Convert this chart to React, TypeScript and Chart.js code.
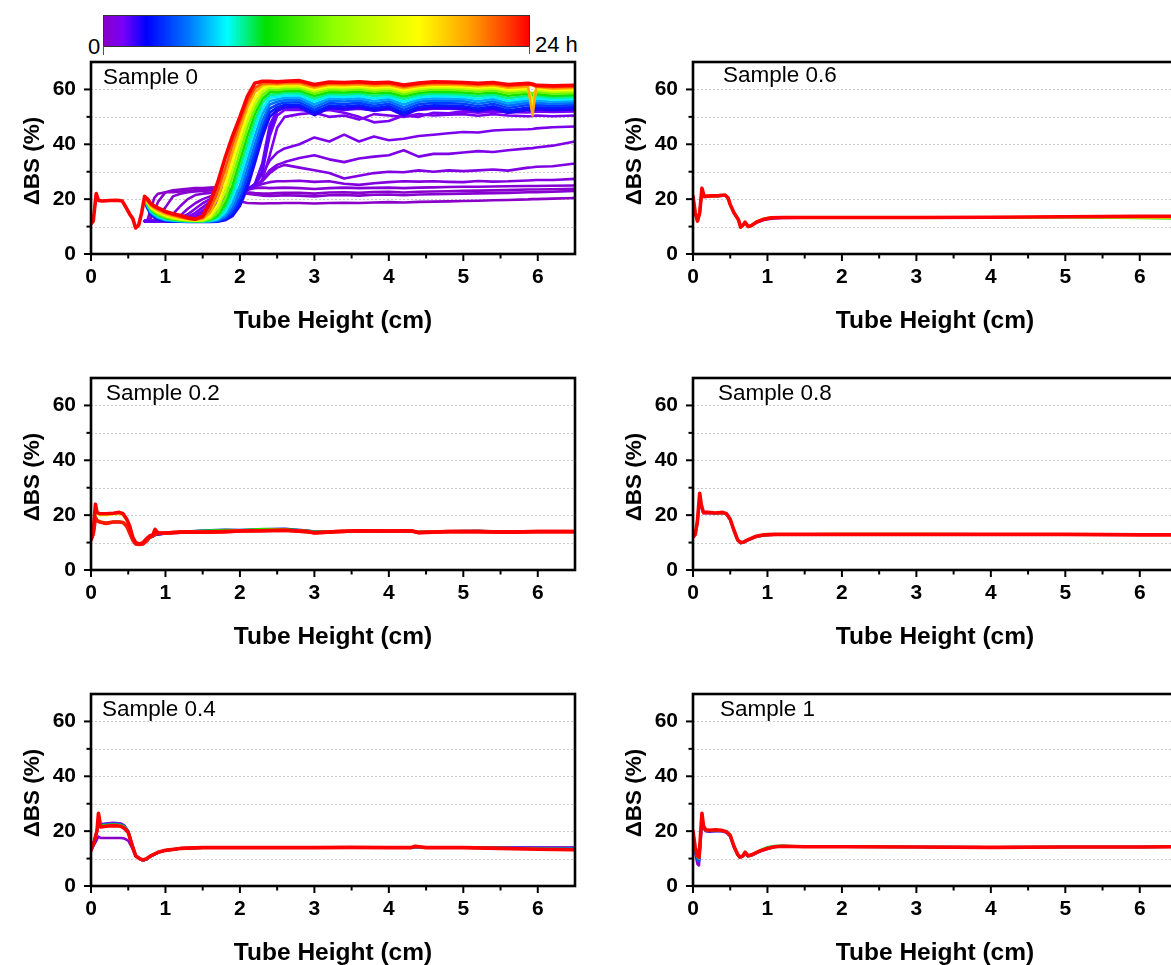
import React, { useEffect, useRef } from 'react';
import { Chart, registerables } from 'chart.js';

Chart.register(...registerables);
Chart.defaults.font.family = '"Liberation Sans", Arial, Helvetica, sans-serif';
Chart.defaults.color = '#000';

// ---------------- axes / labels ----------------
const X_MIN = 0;
const X_MAX = 6.5;
const Y_MIN = 0;
const Y_MAX = 70;
const X_MAJOR_TICKS = [0, 1, 2, 3, 4, 5, 6];
const X_MINOR_TICKS = [0.5, 1.5, 2.5, 3.5, 4.5, 5.5];
const Y_MAJOR_TICKS = [0, 20, 40, 60];
const Y_MINOR_TICKS = [10, 30, 50];
const Y_GRID_LINES = [10, 20, 30, 40, 50, 60];
const X_TITLE = 'Tube Height (cm)';
const Y_TITLE = '\u0394BS (%)';
const COLORBAR_MIN_LABEL = '0';
const COLORBAR_MAX_LABEL = '24 h';
const MAX_HOURS = 24;

// ---------------- Sample 0 ----------------
const S0_HEAD_X = [0, 0.03, 0.07, 0.1, 0.15, 0.25, 0.35, 0.42, 0.47, 0.52, 0.56, 0.6, 0.64, 0.68];
const S0_RED_HEAD = [11, 12, 22, 19.5, 19.3, 19.5, 19.6, 19.3, 17, 14.5, 13, 9.5, 10.5, 15];
const S0_X = [0.72, 0.76, 0.8, 0.85, 0.9, 1.0, 1.1, 1.2, 1.3, 1.4, 1.5, 1.6, 1.7, 1.8, 1.9, 2.0, 2.1, 2.2, 2.3, 2.4, 2.5, 2.6, 2.8, 3.0, 3.2, 3.4, 3.6, 3.8, 4.0, 4.2, 4.4, 4.6, 4.8, 5.0, 5.2, 5.4, 5.6, 5.87, 5.93, 5.98, 6.2, 6.5];
const S0_P1 = [12, 12.5, 16, 20.5, 22, 22.5, 22.5, 22.8, 23, 23.2, 23.3, 23.5, 23, 22, 20.5, 19.2, 18.6, 18.5, 18.4, 18.5, 18.5, 18.6, 18.6, 18.4, 18.6, 18.7, 18.6, 18.8, 18.9, 18.8, 19, 19.1, 19.2, 19.3, 19.4, 19.6, 19.7, 19.9, 20, 20, 20.2, 20.4];
const S0_P2 = [12, 12.3, 13, 15.5, 19, 22.5, 23.2, 23.5, 23.8, 24, 24, 24.2, 24.3, 24, 23.5, 23, 22.5, 22.2, 22, 22, 22.2, 22.3, 22.3, 22, 22.4, 22.5, 22.3, 22.6, 22.7, 22.4, 22.7, 22.8, 22.9, 23, 23.1, 23.2, 23.3, 23.5, 23.5, 23.5, 23.6, 23.8];
const S0_P3 = [12, 12, 12.2, 12.6, 13.5, 17, 21, 22, 22.5, 22.8, 23, 23.2, 23.3, 23.2, 22.8, 22.4, 22, 21.6, 21.3, 21.2, 21.3, 21.4, 21.3, 21, 21.4, 21.5, 21.3, 21.6, 21.7, 21.4, 21.7, 21.8, 21.9, 22, 22.1, 22.2, 22.3, 22.5, 22.5, 22.5, 22.7, 23];
const S0_P4 = [12, 12, 12, 12.1, 12.3, 13, 14.5, 17.5, 20, 21.5, 22, 22.3, 22.5, 22.6, 22.8, 23, 23.5, 24, 24.2, 24, 24.1, 24.2, 24, 23.7, 24, 24.2, 24, 24.1, 24.2, 24, 24.2, 24.3, 24.4, 24.5, 24.5, 24.6, 24.7, 24.8, 24.8, 24.8, 24.9, 25];
const S0_P5 = [12, 12, 12, 12, 12.1, 12.3, 12.8, 14, 16.5, 18.5, 20, 21, 21.8, 22.3, 22.8, 23.2, 23.8, 24.5, 25.5, 26.2, 26.5, 26.5, 26.7, 26.3, 26.5, 25.6, 25.2, 25.8, 26.2, 26.5, 26.4, 26.5, 26.3, 26.2, 26.6, 26.4, 26.5, 26.8, 26.9, 27, 27, 27.4];
const S0_P6 = [12, 12, 12, 12, 12, 12.2, 12.5, 13.2, 14.5, 16.5, 18.5, 20, 21, 21.8, 22.3, 22.8, 23.5, 24.5, 26.5, 29.5, 31.5, 32.5, 31.5, 30.5, 29.5, 27.5, 28.5, 29.5, 30, 29.8, 30.5, 30, 30.5, 30.2, 30.5, 30.8, 30.4, 31.5, 31.6, 31.8, 32, 33];
const S0_P7 = [12, 12, 12, 12, 12, 12.1, 12.3, 12.7, 13.5, 15, 17, 19, 20.3, 21.3, 22, 22.5, 23.3, 24.5, 27, 30.5, 32.5, 33.5, 35, 36, 34.5, 33.5, 34.8, 35.5, 36, 37.8, 35.5, 36.5, 36.5, 37, 37.5, 37.2, 37.8, 38.5, 38.6, 38.8, 39.5, 41];
const S0_P8 = [12, 12, 12, 12, 12, 12, 12.2, 12.5, 13, 14, 15.8, 18, 19.8, 21, 21.8, 22.5, 23.5, 25.5, 29, 34, 37, 38.5, 40, 42.5, 41, 43.5, 41, 42.8, 41.5, 42, 43, 43.5, 44, 44.5, 44.3, 45, 45.3, 45.5, 45.6, 45.8, 46.2, 46.5];
const S0_P9 = [12, 12, 12, 12, 12, 12, 12.1, 12.3, 12.7, 13.5, 15, 17, 19, 20.5, 21.5, 22.5, 23.5, 24.5, 27, 36, 46, 50, 51, 51.5, 50, 50.5, 49, 51, 50.5, 50, 51, 50.5, 50.8, 51, 50.4, 51, 50.5, 50.2, 50.3, 50.5, 50.2, 50.5];
const S0_P10 = [12, 12, 12, 12, 12, 12, 12, 12.2, 12.5, 13, 14.2, 16, 18, 19.8, 21, 22.3, 23.5, 25, 30, 43, 50.5, 52.5, 52.5, 52, 52.5, 51.5, 50, 48, 48.5, 50.5, 50, 51.5, 51.3, 52, 51.5, 52, 51.8, 51.6, 51.8, 52, 51.8, 52];
const S0_P11 = [12, 12, 12, 12, 12, 12, 12, 12.1, 12.3, 12.7, 13.5, 15, 17, 19, 20.5, 22, 23.5, 25.5, 33, 47, 52.5, 53.5, 53.5, 52, 53, 52.5, 53, 52.3, 52.8, 51.8, 52.5, 53, 53, 52.8, 52.3, 52.8, 52, 53, 53, 53.2, 53.3, 53.5];
const S0_P12 = [12, 12, 12, 12, 12, 12, 12, 12, 12.2, 12.5, 13, 14, 15.8, 18, 20, 22, 23.5, 25, 30, 45, 52, 53.5, 53.8, 51.5, 53.5, 53, 53.5, 52.5, 53.3, 51.2, 53, 53.5, 53.4, 53.2, 52.5, 53.3, 52, 53, 52.5, 53.2, 53, 53.3];
const S0_F1 = [19, 16.5, 14.5, 13.4, 12.6, 12, 11.8, 11.8, 11.7, 11.7, 11.7, 11.7, 11.8, 12.3, 13.8, 17.5, 24, 33, 42.5, 50, 52.5, 53.4, 53.5, 50.6, 53.2, 52.9, 53.3, 52.2, 53, 50.5, 52.8, 53.3, 53.2, 53, 52.1, 53, 51.4, 52.5, 52, 52.7, 52.4, 52.7];
const S0_F2 = [19.3, 16.8, 14.8, 13.6, 12.8, 12.1, 11.9, 11.8, 11.8, 11.8, 11.8, 11.8, 11.9, 12.6, 14.5, 18.8, 26, 35, 44.5, 51.5, 53.5, 54.3, 54.4, 51.6, 54.1, 53.8, 54.2, 53.1, 53.9, 51.5, 53.7, 54.2, 54.1, 53.9, 53, 53.9, 52.3, 53.4, 52.8, 53.5, 53.2, 53.5];
const S0_F3 = [19.5, 17, 15, 13.8, 13, 12.2, 12, 11.9, 11.9, 11.8, 11.8, 11.8, 12, 13, 15.5, 20.5, 28.5, 37.5, 46.5, 53, 54.5, 55.2, 55.3, 52.6, 55, 54.7, 55.1, 54, 54.8, 52.5, 54.6, 55.1, 55, 54.8, 53.9, 54.8, 53.2, 54.3, 53.7, 54.3, 54, 54.3];
const S0_F4 = [19.7, 17.2, 15.2, 14, 13.2, 12.3, 12.1, 12, 11.9, 11.9, 11.9, 11.9, 12.2, 13.6, 16.8, 22.5, 31, 40, 48.5, 54.5, 55.5, 56.1, 56.2, 53.6, 55.9, 55.6, 56, 54.9, 55.7, 53.5, 55.5, 56, 55.9, 55.7, 54.8, 55.7, 54.1, 55.2, 54.6, 55.1, 54.8, 55.1];
const S0_F5 = [19.8, 17.5, 15.5, 14.3, 13.4, 12.5, 12.2, 12, 12, 11.9, 11.9, 12, 12.5, 14.3, 18.5, 25, 34, 43, 51, 55.8, 56.4, 57, 57.1, 54.6, 56.7, 56.5, 56.8, 55.8, 56.5, 54.5, 56.3, 56.8, 56.7, 56.5, 55.7, 56.5, 55, 56, 55.4, 55.9, 55.5, 55.8];
const S0_F6 = [20, 17.8, 15.8, 14.6, 13.7, 12.7, 12.3, 12.1, 12, 12, 12, 12.1, 12.8, 15.3, 20.5, 28, 37, 46, 53, 57, 57.3, 57.8, 57.9, 55.6, 57.5, 57.3, 57.6, 56.7, 57.3, 55.5, 57.1, 57.6, 57.5, 57.3, 56.6, 57.3, 55.9, 56.8, 56.2, 56.7, 56.3, 56.5];
const S0_F7 = [20, 18, 16.1, 14.9, 14, 12.9, 12.4, 12.2, 12, 12, 12, 12.3, 13.3, 16.5, 22.5, 31, 40, 48.5, 55, 58, 58.2, 58.6, 58.7, 56.6, 58.3, 58.1, 58.4, 57.6, 58.1, 56.5, 57.9, 58.4, 58.3, 58.1, 57.5, 58.1, 56.8, 57.6, 57, 57.5, 57, 57.2];
const S0_F8 = [20.2, 18.3, 16.4, 15.2, 14.3, 13.1, 12.6, 12.3, 12.1, 12, 12, 12.5, 14, 18, 25, 34, 43, 51, 56.5, 59, 59, 59.4, 59.5, 57.6, 59.1, 58.9, 59.2, 58.5, 58.9, 57.4, 58.7, 59.2, 59.1, 58.9, 58.4, 58.9, 57.7, 58.4, 57.8, 58.3, 57.7, 57.9];
const S0_F9 = [20.3, 18.5, 16.7, 15.5, 14.6, 13.4, 12.8, 12.4, 12.2, 12.1, 12.1, 12.8, 15, 20, 28, 37, 46, 53, 58, 60, 59.8, 60.2, 60.3, 58.5, 59.9, 59.7, 60, 59.3, 59.7, 58.3, 59.5, 60, 59.9, 59.7, 59.3, 59.7, 58.6, 59.2, 58.5, 59.1, 58.5, 58.7];
const S0_F10 = [20.5, 18.8, 17, 15.9, 15, 13.8, 13.1, 12.6, 12.3, 12.2, 12.3, 13.3, 16.5, 22.5, 31, 40, 48.5, 55, 59.3, 60.8, 60.6, 60.9, 61, 59.3, 60.6, 60.4, 60.7, 60, 60.4, 59.1, 60.2, 60.7, 60.6, 60.4, 60, 60.4, 59.4, 59.9, 56, 59.8, 59.2, 59.4];
const S0_F11 = [20.5, 19, 17.3, 16.2, 15.4, 14.2, 13.4, 12.9, 12.5, 12.3, 12.5, 14, 18, 25, 34, 43, 51, 57, 60.5, 61.4, 61.2, 61.5, 61.6, 60, 61.2, 61, 61.3, 60.7, 61, 59.8, 60.8, 61.3, 61.2, 61, 60.6, 61, 60, 60.5, 53, 60.4, 59.8, 60];
const S0_F12 = [20.5, 19, 17.6, 16.6, 15.8, 14.6, 13.8, 13.2, 12.7, 12.4, 12.8, 15, 20.5, 28, 37, 45.5, 53.5, 59, 61.5, 62, 61.8, 62, 62.1, 60.6, 61.7, 61.5, 61.8, 61.3, 61.6, 60.4, 61.3, 61.8, 61.7, 61.5, 61.2, 61.5, 60.6, 61, 50.5, 61, 60.3, 60.5];
const S0_F13 = [20.5, 19.5, 18, 17, 16.3, 15, 14.2, 13.5, 12.9, 12.5, 13.2, 16.5, 23, 31, 40, 48, 55.5, 60.5, 62.3, 62.4, 62.2, 62.5, 62.6, 61.2, 62.2, 62, 62.3, 61.9, 62.1, 61, 61.8, 62.3, 62.2, 62, 61.7, 62, 61.2, 61.7, 61.5, 61, 60.8, 61];
const S0_RED = [21, 20, 18.5, 17.5, 16.8, 15.5, 14.7, 14, 13.2, 12.7, 13.8, 19, 26, 35, 43, 50, 57.5, 62.3, 63, 63, 62.8, 63, 63.2, 61.8, 62.7, 62.5, 62.8, 62.4, 62.6, 61.6, 62.3, 62.8, 62.7, 62.5, 62.2, 62.5, 61.8, 62.2, 62, 61.5, 61.3, 61.5];
const S0_CURVES = [S0_P1, S0_P2, S0_P3, S0_P4, S0_P5, S0_P6, S0_P7, S0_P8, S0_P9, S0_P10, S0_P11, S0_P12, S0_F1, S0_F2, S0_F3, S0_F4, S0_F5, S0_F6, S0_F7, S0_F8, S0_F9, S0_F10, S0_F11, S0_F12, S0_F13];
const S0_HOURS = [0, 0.1, 0.2, 0.3, 0.5, 0.6, 0.7, 0.8, 0.9, 1.0, 1.2, 1.4, 2, 2.9, 3.6, 4.6, 5.5, 6.7, 7.9, 9.6, 12, 14.9, 17.8, 20.4, 22.3];
const S0_RED_HOURS = 24;

// ---------------- Sample 0.2 ----------------
const S02_X = [0, 0.03, 0.06, 0.08, 0.12, 0.2, 0.3, 0.38, 0.43, 0.48, 0.52, 0.56, 0.6, 0.65, 0.7, 0.75, 0.79, 0.83, 0.86, 0.9, 1.0, 1.2, 1.5, 1.8, 2.0, 2.3, 2.6, 2.9, 3.0, 3.3, 3.6, 4.0, 4.3, 4.4, 4.8, 5.2, 5.6, 6.0, 6.3, 6.5];
const S02_PURPLE = [11, 13, 19, 18, 17.5, 17, 17.5, 17.5, 17.3, 16, 13.5, 11, 9.5, 9.3, 9.5, 10.5, 11.8, 12.2, 12.8, 13, 13.3, 13.6, 14, 14.3, 14.3, 14.5, 14.6, 14.2, 13.8, 14, 14, 14.2, 14, 13.8, 14.1, 14.2, 13.8, 14.1, 14, 14];
const S02_BLUE = [11, 13, 19, 18, 17.5, 17, 17.5, 17.5, 17.3, 16, 13.5, 11, 9.5, 9.3, 9.5, 10.5, 11.8, 12.2, 12.8, 13, 13.3, 13.8, 14.4, 14.7, 14.6, 14.8, 15, 14.4, 14, 14.1, 14.2, 14.3, 14.1, 13.8, 14.1, 14.2, 13.9, 14.1, 14, 14];
const S02_GREEN = [11, 13, 19.5, 18.2, 17.6, 17.2, 17.6, 17.6, 17.4, 16.2, 13.8, 11.2, 9.6, 9.4, 9.6, 10.6, 11.9, 12.4, 13.5, 13.2, 13.4, 13.8, 14.3, 14.6, 14.5, 14.9, 14.8, 14.3, 13.9, 14.1, 14.2, 14.2, 14.2, 13.8, 14.1, 14.2, 13.9, 14.1, 14.1, 14.1];
const S02_YELLOW = [11, 13.5, 22, 20.5, 20, 20, 20.3, 20.5, 20, 18, 15.5, 12, 10, 9.5, 10, 11.3, 12.3, 12.7, 14.5, 13.4, 13.5, 13.8, 13.9, 14.1, 14.3, 14.5, 14.6, 14.1, 13.6, 14, 14.2, 14.2, 14.3, 13.7, 14, 14.1, 13.8, 14, 14, 14];
const S02_RED_LOW = [11, 13, 19, 18, 17.5, 17, 17.5, 17.5, 17.3, 16, 13.5, 11, 9.5, 9.3, 9.5, 10.8, 12, 12.5, 13, 13.3, 13.5, 13.8, 13.8, 14, 14.2, 14.3, 14.5, 14, 13.6, 14, 14.3, 14.2, 14.3, 13.7, 14, 14, 13.8, 14, 14, 14];
const S02_RED = [11, 14, 24, 21, 20.5, 20.5, 20.7, 21, 20.5, 18.5, 16, 12, 10, 9.5, 10, 11.5, 12.5, 12.8, 14.8, 13.5, 13.5, 13.8, 13.8, 14, 14.2, 14.3, 14.5, 14, 13.5, 14, 14.3, 14.2, 14.3, 13.6, 14, 14, 13.8, 14, 14, 14];
const S02_CURVES = [S02_PURPLE, S02_BLUE, S02_GREEN, S02_YELLOW, S02_RED_LOW, S02_RED];
const S02_HOURS = [0, 3, 10, 17, 23.5, 24];

// ---------------- Sample 0.4 ----------------
const S04_X = [0, 0.04, 0.08, 0.1, 0.13, 0.2, 0.3, 0.4, 0.45, 0.5, 0.55, 0.6, 0.65, 0.7, 0.75, 0.8, 0.9, 1.0, 1.2, 1.5, 2.0, 2.5, 3.0, 3.5, 4.0, 4.3, 4.35, 4.5, 5.0, 5.5, 6.0, 6.5];
const S04_PURPLE_LOW = [13, 15, 17, 18, 17.5, 17.5, 17.5, 17.5, 17.3, 16.5, 14, 11, 10, 9.3, 9.8, 10.8, 12.2, 13, 13.7, 14, 14, 14, 14, 14, 14, 14, 14.2, 14, 14, 13.9, 13.9, 13.9];
const S04_PURPLE = [13, 16, 20, 24, 22.5, 22.8, 23, 22.8, 22, 20, 15.5, 11.2, 10, 9.3, 9.8, 10.8, 12.2, 13, 13.7, 14, 14, 14, 14, 14, 14, 14, 14.2, 14, 14, 14, 14, 14];
const S04_BLUE = [13, 16, 20, 24.5, 22.2, 22.5, 22.7, 22.5, 21.7, 20, 15.3, 11.1, 10, 9.3, 9.8, 10.8, 12.2, 13, 13.7, 14, 14, 14, 14, 14, 14, 14, 14.2, 14, 14, 13.9, 13.8, 13.7];
const S04_GREEN = [13, 16, 20, 25, 22, 22.2, 22.4, 22.2, 21.5, 19.8, 15.2, 11.1, 10, 9.4, 9.9, 10.9, 12.2, 13, 13.7, 14, 14, 14, 14, 14.1, 14, 14, 14.3, 14, 14, 13.8, 13.6, 13.5];
const S04_RED = [13, 16, 20, 26.5, 21.5, 21.8, 22, 21.8, 21, 19.5, 15, 11, 10, 9.5, 10, 11, 12.3, 13, 13.7, 14, 14, 14, 14, 14.1, 14, 14, 14.5, 14, 14, 13.7, 13.4, 13.2];
const S04_CURVES = [S04_PURPLE_LOW, S04_PURPLE, S04_BLUE, S04_GREEN, S04_RED];
const S04_HOURS = [0, 0.3, 4, 10, 24];

// ---------------- Sample 0.6 ----------------
const S06_X = [0, 0.03, 0.06, 0.09, 0.12, 0.15, 0.25, 0.35, 0.43, 0.47, 0.5, 0.55, 0.58, 0.61, 0.64, 0.67, 0.7, 0.74, 0.78, 0.85, 0.95, 1.05, 1.2, 1.5, 2.0, 3.0, 4.0, 5.0, 6.0, 6.5];
const S06_PURPLE = [21, 15, 12, 15, 23, 20.8, 21, 21.1, 21.3, 20.3, 18, 15, 13.8, 12.5, 9.8, 10.5, 11.4, 10, 10.3, 11.4, 12.4, 12.9, 13.1, 13.2, 13.2, 13.2, 13.3, 13.5, 13.5, 13.5];
const S06_GREEN = [21, 15, 12, 15, 23.5, 21, 21.1, 21.2, 21.4, 20.4, 18, 15, 13.8, 12.5, 9.8, 10.5, 11.5, 10, 10.3, 11.7, 12.8, 13.3, 13.4, 13.4, 13.3, 13.3, 13.3, 13.4, 13.1, 13];
const S06_YELLOW = [21, 15, 12, 15, 23.8, 21, 21.2, 21.3, 21.5, 20.5, 18, 15, 13.8, 12.5, 9.8, 10.5, 11.6, 10, 10.3, 11.7, 12.8, 13.3, 13.4, 13.4, 13.3, 13.3, 13.4, 13.5, 13.3, 13.2];
const S06_RED = [21, 15, 12, 15, 24, 21, 21.2, 21.3, 21.5, 20.5, 18, 15, 13.8, 12.5, 9.8, 10.5, 11.6, 10, 10.3, 11.6, 12.7, 13.2, 13.3, 13.3, 13.3, 13.3, 13.4, 13.6, 13.7, 13.7];
const S06_CURVES = [S06_PURPLE, S06_GREEN, S06_YELLOW, S06_RED];
const S06_HOURS = [0, 10, 17, 24];

// ---------------- Sample 0.8 ----------------
const S08_X = [0, 0.03, 0.06, 0.09, 0.11, 0.14, 0.2, 0.3, 0.4, 0.45, 0.5, 0.55, 0.6, 0.64, 0.68, 0.72, 0.78, 0.85, 0.95, 1.1, 1.5, 2.0, 3.0, 4.0, 5.0, 6.0, 6.5];
const S08_PURPLE = [12, 13, 17, 26, 23, 20.7, 20.8, 20.6, 20.8, 20.3, 18.3, 14.3, 10.8, 9.8, 10, 10.6, 11.3, 12.1, 12.6, 12.9, 13, 13, 13, 13, 13, 12.9, 12.9];
const S08_GREEN = [12, 13, 17.5, 27, 23.5, 20.9, 20.9, 20.7, 20.9, 20.4, 18.4, 14.4, 10.9, 9.9, 10.1, 10.7, 11.4, 12.2, 12.7, 13, 13, 13.1, 13.1, 13, 13, 12.9, 12.9];
const S08_RED = [12, 13, 18, 28, 24, 21, 21, 20.8, 21, 20.5, 18.5, 14.5, 11, 10, 10.2, 10.8, 11.5, 12.3, 12.8, 13, 13, 13, 13, 13, 13, 12.8, 12.8];
const S08_CURVES = [S08_PURPLE, S08_GREEN, S08_RED];
const S08_HOURS = [0, 10, 24];

// ---------------- Sample 1 ----------------
const S1_X = [0, 0.03, 0.06, 0.08, 0.1, 0.12, 0.14, 0.17, 0.22, 0.3, 0.38, 0.45, 0.5, 0.55, 0.6, 0.63, 0.67, 0.7, 0.74, 0.8, 0.9, 1.0, 1.1, 1.2, 1.5, 2.0, 3.0, 4.0, 5.0, 6.0, 6.5];
const S1_PURPLE = [18, 12, 8, 7.5, 15, 24, 21, 20, 19.8, 20, 20, 19.5, 18, 14.2, 11.3, 10.3, 10.8, 12, 10.8, 11.3, 12.6, 13.6, 14.2, 14.4, 14.3, 14.3, 14.2, 14.1, 14.2, 14.2, 14.3];
const S1_BLUE = [19, 13, 9.5, 9, 16.5, 25, 21.5, 20.3, 20, 20.2, 20.1, 19.6, 18.2, 14.3, 11.4, 10.4, 10.9, 12.1, 10.9, 11.4, 12.9, 14, 14.5, 14.6, 14.4, 14.3, 14.2, 14.1, 14.2, 14.2, 14.3];
const S1_GREEN = [19.5, 13.5, 10.5, 10, 17, 26, 21.8, 20.4, 20.2, 20.4, 20.2, 19.7, 18.4, 14.4, 11.4, 10.4, 10.9, 12.2, 10.9, 11.4, 13, 14.1, 14.6, 14.7, 14.4, 14.3, 14.2, 14.1, 14.2, 14.2, 14.3];
const S1_RED = [20, 14, 11, 10.5, 18, 26.5, 22, 20.5, 20.3, 20.5, 20.3, 19.8, 18.5, 14.5, 11.5, 10.5, 11, 12.3, 11, 11.5, 12.8, 13.7, 14.3, 14.5, 14.3, 14.3, 14.2, 14.1, 14.2, 14.2, 14.3];
const S1_CURVES = [S1_PURPLE, S1_BLUE, S1_GREEN, S1_RED];
const S1_HOURS = [0, 4, 10, 24];

// ---------------- colour map (time -> colour) ----------------
const COLOR_STOPS: [number, string][] = [
  [0, '#8a00c8'],
  [0.045, '#7800f8'],
  [0.1, '#0000ff'],
  [0.2, '#0078ff'],
  [0.29, '#00ffff'],
  [0.38, '#00e000'],
  [0.54, '#90ff00'],
  [0.74, '#ffff00'],
  [0.86, '#ffa000'],
  [0.94, '#ff4800'],
  [1, '#ff0000'],
];

function hexToRgb(h: string) {
  const n = parseInt(h.slice(1), 16);
  return [(n >> 16) & 255, (n >> 8) & 255, n & 255];
}

function colorAt(t: number) {
  const tt = Math.max(0, Math.min(1, t));
  for (let i = 0; i < COLOR_STOPS.length - 1; i++) {
    const [t0, c0] = COLOR_STOPS[i];
    const [t1, c1] = COLOR_STOPS[i + 1];
    if (tt >= t0 && tt <= t1) {
      const f = (tt - t0) / (t1 - t0 || 1);
      const a = hexToRgb(c0);
      const b = hexToRgb(c1);
      const r = a.map((v, k) => Math.round(v + (b[k] - v) * f));
      return `rgb(${r[0]},${r[1]},${r[2]})`;
    }
  }
  return COLOR_STOPS[COLOR_STOPS.length - 1][1];
}

const GRADIENT_CSS = `linear-gradient(to right, ${COLOR_STOPS.map(([t, c]) => `${c} ${t * 100}%`).join(', ')})`;

type Series = { x: number[]; y: number[]; hours: number; width: number };

function buildSeries(x: number[], curves: number[][], hours: number[]): Series[] {
  return curves.map((y, i) => ({ x, y, hours: hours[i], width: hours[i] >= 23 ? 3.6 : 2.6 }));
}

const SAMPLE0_SERIES: Series[] = [
  ...buildSeries(S0_X, S0_CURVES, S0_HOURS),
  { x: [...S0_HEAD_X, ...S0_X], y: [...S0_RED_HEAD, ...S0_RED], hours: S0_RED_HOURS, width: 3.6 },
];

// ---------------- layout ----------------
const Y_AXIS_W = 85;
const X_AXIS_H = 92;
const PAD_TOP = 34;
const PAD_RIGHT = 4;
const PLOT_W = 484;
const PLOT_H = 192;
const CANVAS_W = Y_AXIS_W + PLOT_W + PAD_RIGHT;
const CANVAS_H = PAD_TOP + PLOT_H + X_AXIS_H;
const FONT = '"Liberation Sans", Arial, Helvetica, sans-serif';

const PANELS = [
  { key: 's0', label: 'Sample 0', plotLeft: 91, plotTop: 62, dx: 12, dy: 16, series: SAMPLE0_SERIES },
  { key: 's06', label: 'Sample 0.6', plotLeft: 693, plotTop: 62, dx: 30, dy: 14, series: buildSeries(S06_X, S06_CURVES, S06_HOURS) },
  { key: 's02', label: 'Sample 0.2', plotLeft: 91, plotTop: 378, dx: 15, dy: 16, series: buildSeries(S02_X, S02_CURVES, S02_HOURS) },
  { key: 's08', label: 'Sample 0.8', plotLeft: 693, plotTop: 378, dx: 25, dy: 16, series: buildSeries(S08_X, S08_CURVES, S08_HOURS) },
  { key: 's04', label: 'Sample 0.4', plotLeft: 91, plotTop: 694, dx: 11, dy: 16, series: buildSeries(S04_X, S04_CURVES, S04_HOURS) },
  { key: 's1', label: 'Sample 1', plotLeft: 693, plotTop: 694, dx: 27, dy: 16, series: buildSeries(S1_X, S1_CURVES, S1_HOURS) },
];

function Panel(props: { label: string; plotLeft: number; plotTop: number; dx: number; dy: number; series: Series[] }) {
  const ref = useRef<HTMLCanvasElement | null>(null);
  useEffect(() => {
    const canvas = ref.current!;
    const { label, dx, dy, series, plotLeft, plotTop } = props;
    const decor = {
      id: 'decor',
      beforeDatasetsDraw(chart: any) {
        const { ctx, chartArea: a, scales } = chart;
        ctx.save();
        ctx.strokeStyle = '#c9c9c9';
        ctx.lineWidth = 1;
        ctx.setLineDash([2, 2]);
        for (const v of Y_GRID_LINES) {
          const y = Math.round(scales.y.getPixelForValue(v)) + 0.5;
          ctx.beginPath();
          ctx.moveTo(a.left, y);
          ctx.lineTo(a.right, y);
          ctx.stroke();
        }
        ctx.restore();
      },
      afterDraw(chart: any) {
        const { ctx, chartArea: a, scales } = chart;
        ctx.save();
        ctx.strokeStyle = '#000';
        ctx.lineWidth = 2;
        ctx.setLineDash([]);
        const tick = (x1: number, y1: number, x2: number, y2: number) => {
          ctx.beginPath();
          ctx.moveTo(x1, y1);
          ctx.lineTo(x2, y2);
          ctx.stroke();
        };
        for (const v of X_MAJOR_TICKS) { const x = scales.x.getPixelForValue(v); tick(x, a.bottom, x, a.bottom + 7); }
        for (const v of X_MINOR_TICKS) { const x = scales.x.getPixelForValue(v); tick(x, a.bottom, x, a.bottom + 4.5); }
        for (const v of Y_MAJOR_TICKS) { const y = scales.y.getPixelForValue(v); tick(a.left, y, a.left - 7, y); }
        for (const v of Y_MINOR_TICKS) { const y = scales.y.getPixelForValue(v); tick(a.left, y, a.left - 4.5, y); }
        ctx.lineWidth = 2.6;
        ctx.strokeRect(a.left, a.top, a.right - a.left, a.bottom - a.top);
        // panel label
        ctx.font = `22.5px ${FONT}`;
        ctx.fillStyle = '#000';
        ctx.textBaseline = 'middle';
        ctx.textAlign = 'left';
        ctx.fillText(label, a.left + dx, a.top + dy);
        // axis titles
        ctx.font = `bold 24.5px ${FONT}`;
        ctx.textAlign = 'center';
        ctx.fillText(X_TITLE, (a.left + a.right) / 2, a.bottom + 67);
        ctx.save();
        ctx.translate(a.left - 58, (a.top + a.bottom) / 2 + 3);
        ctx.rotate(-Math.PI / 2);
        ctx.font = `bold 22.5px ${FONT}`;
        ctx.fillText(Y_TITLE, 0, 0);
        ctx.restore();
        ctx.restore();
      },
    };
    // later datasets first so that the 24 h (red) curve is drawn on top
    const datasets = series.map((s) => ({
      data: s.x.map((x, i) => ({ x, y: s.y[i] })),
      borderColor: colorAt(s.hours / MAX_HOURS),
      borderWidth: s.width,
      pointRadius: 0,
      fill: false,
      tension: 0,
      borderJoinStyle: 'round',
      borderCapStyle: 'round',
    })).reverse();
    const chart = new Chart(canvas, {
      type: 'line',
      data: { datasets },
      options: {
        animation: false,
        responsive: false,
        events: [],
        layout: { padding: { top: PAD_TOP, right: PAD_RIGHT, left: 0, bottom: 0 } },
        plugins: { legend: { display: false }, tooltip: { enabled: false } },
        scales: {
          x: {
            type: 'linear',
            min: X_MIN,
            max: X_MAX,
            afterBuildTicks: (s: any) => { s.ticks = X_MAJOR_TICKS.map((value) => ({ value })); },
            afterFit: (s: any) => { s.height = X_AXIS_H; },
            ticks: { autoSkip: false, maxRotation: 0, padding: 11, color: '#000', font: { size: 21, weight: 'bold' }, callback: (v: any) => String(v) },
            grid: { display: false, drawTicks: false },
            border: { display: false },
            title: { display: false },
          },
          y: {
            type: 'linear',
            min: Y_MIN,
            max: Y_MAX,
            afterBuildTicks: (s: any) => { s.ticks = Y_MAJOR_TICKS.map((value) => ({ value })); },
            afterFit: (s: any) => { s.width = Y_AXIS_W; },
            ticks: { autoSkip: false, padding: 15, color: '#000', font: { size: 21, weight: 'bold' }, callback: (v: any) => String(v) },
            grid: { display: false, drawTicks: false },
            border: { display: false },
            title: { display: false },
          },
        },
      } as any,
      plugins: [decor],
    });
    const a = chart.chartArea;
    canvas.style.left = `${plotLeft - a.left}px`;
    canvas.style.top = `${plotTop - a.top}px`;
    return () => chart.destroy();
  }, []);
  return (
    <canvas
      ref={ref}
      width={CANVAS_W}
      height={CANVAS_H}
      style={{ position: 'absolute', left: props.plotLeft - Y_AXIS_W, top: props.plotTop - PAD_TOP, width: CANVAS_W, height: CANVAS_H }}
    />
  );
}

function ColorBar() {
  return (
    <>
      <div style={{ position: 'absolute', left: 103, top: 15, width: 427, height: 32, background: GRADIENT_CSS, border: '1px solid #333', boxSizing: 'border-box' }} />
      <div style={{ position: 'absolute', left: 103, top: 46, width: 1, height: 9, background: '#555' }} />
      <div style={{ position: 'absolute', left: 529, top: 46, width: 1, height: 8, background: '#555' }} />
      <div style={{ position: 'absolute', left: 88, top: 36, fontFamily: FONT, fontSize: 22, lineHeight: '22px', color: '#000' }}>{COLORBAR_MIN_LABEL}</div>
      <div style={{ position: 'absolute', left: 535, top: 34, fontFamily: FONT, fontSize: 22, lineHeight: '22px', color: '#000', whiteSpace: 'nowrap' }}>{COLORBAR_MAX_LABEL}</div>
    </>
  );
}

export default function App() {
  return (
    <div style={{ position: 'fixed', left: 0, top: 0, width: 1171, height: 965, overflow: 'hidden', background: '#fff' }}>
      <ColorBar />
      {PANELS.map((p) => (
        <Panel key={p.key} label={p.label} plotLeft={p.plotLeft} plotTop={p.plotTop} dx={p.dx} dy={p.dy} series={p.series} />
      ))}
    </div>
  );
}
